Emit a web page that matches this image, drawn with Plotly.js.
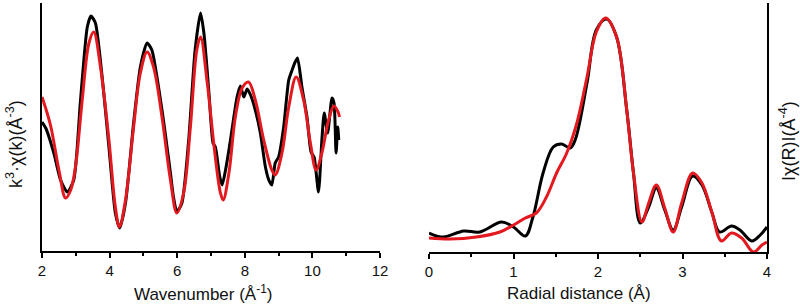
<!DOCTYPE html>
<html>
<head>
<meta charset="utf-8">
<script src="https://cdn.plot.ly/plotly-3.0.1.min.js"></script>
<style>html,body{margin:0;padding:0;background:#fff;}#chart{width:800px;height:307px;}</style>
</head>
<body>
<div id="chart"></div>
<script>
// k-space (left panel): experimental (black) and fit (red)
var kExp = [2.00,2.11,2.35,2.55,2.75,2.94,3.14,3.34,3.45,3.58,3.78,3.98,4.17,4.30,4.47,4.71,4.91,5.11,5.25,5.55,5.80,5.89,5.99,6.14,6.34,6.53,6.69,6.79,6.94,7.06,7.13,7.26,7.33,7.43,7.53,7.65,7.77,7.87,7.97,8.07,8.17,8.31,8.46,8.61,8.71,8.80,8.90,9.00,9.15,9.30,9.40,9.49,9.56,9.69,9.84,9.96,10.05,10.18,10.28,10.35,10.45,10.58,10.64,10.70,10.75,10.78];
var chiExp = [0.3,-0.3,-2.8,-5.5,-6.7,-5.5,2.5,9.8,10.9,10.2,4.8,-2.2,-8.8,-10.3,-7.8,0.2,5.8,8.2,7.5,1.5,-4.8,-7.2,-8.7,-7.8,-1.5,7.5,11.2,9.2,3.2,-1.8,-2.2,-5.2,-6.0,-4.5,-2.5,0.2,2.8,3.9,2.8,3.6,3.0,1.5,-0.8,-4.2,-5.5,-6.0,-3.8,-3.2,-0.2,4.5,5.5,6.3,6.7,3.8,0.8,-2.7,-3.2,-6.7,-1.5,1.2,-0.8,2.7,2.2,-2.8,-0.2,-1.5];
var kFit = [2.00,2.25,2.50,2.70,2.85,2.99,3.19,3.39,3.53,3.73,3.98,4.17,4.29,4.47,4.71,4.91,5.11,5.30,5.55,5.80,5.99,6.19,6.39,6.58,6.69,6.89,7.08,7.28,7.36,7.53,7.72,7.92,8.11,8.31,8.56,8.80,8.90,9.10,9.30,9.52,9.74,9.94,10.11,10.28,10.48,10.64,10.77,10.80];
var chiFit = [2.8,0.0,-4.5,-7.3,-6.5,-4.2,2.5,8.2,9.3,5.8,-1.5,-8.2,-10.2,-7.5,-0.2,5.2,7.3,5.8,0.8,-5.5,-8.8,-6.8,-0.2,7.5,8.8,4.2,-1.8,-6.8,-7.5,-4.8,0.8,3.7,4.3,2.5,-1.5,-4.5,-5.0,-2.8,1.8,4.8,2.5,-1.8,-4.5,-2.8,0.5,1.9,1.2,0.8];

// R-space (right panel)
var rExp = [0.00,0.17,0.41,0.60,0.86,1.00,1.14,1.23,1.35,1.47,1.57,1.67,1.73,1.87,1.98,2.10,2.22,2.34,2.42,2.50,2.60,2.69,2.79,2.89,2.99,3.12,3.23,3.35,3.44,3.58,3.68,3.82,3.92,4.00];
var magExp = [0.76,0.60,0.84,0.80,1.20,1.00,0.64,1.40,3.16,4.20,4.32,4.16,4.48,6.76,8.88,9.32,8.60,5.68,3.16,1.16,1.80,2.56,1.68,0.88,1.80,3.04,2.68,1.56,0.80,1.04,0.88,0.44,0.68,1.00];
var rFit = [0.00,0.25,0.56,0.84,1.00,1.14,1.27,1.39,1.51,1.63,1.75,1.87,1.98,2.09,2.22,2.34,2.42,2.52,2.60,2.69,2.79,2.89,2.99,3.12,3.23,3.35,3.46,3.58,3.70,3.84,3.94,4.00];
var magFit = [0.56,0.52,0.60,0.80,1.08,1.36,1.56,2.20,3.16,3.96,5.16,7.00,8.80,9.36,8.60,5.68,3.16,1.20,1.96,2.68,1.76,0.80,1.96,3.16,2.76,1.56,0.44,0.76,0.56,0.00,0.28,0.40];

var kTicks = [2,4,6,8,10,12];
var rTicks = [0,1,2,3,4];

var BLACK = '#000000', RED = '#e3191f';
var W = 800, H = 307;
function px(x){return x/W;}
function py(y){return 1 - y/H;}

var traces = [
  {x:kExp, y:chiExp, xaxis:'x', yaxis:'y', mode:'lines', line:{color:BLACK,width:3,shape:'spline',smoothing:0.6}, hoverinfo:'skip'},
  {x:kFit, y:chiFit, xaxis:'x', yaxis:'y', mode:'lines', line:{color:RED,width:3,shape:'spline',smoothing:1}, hoverinfo:'skip'},
  {x:rExp, y:magExp, xaxis:'x2', yaxis:'y2', mode:'lines', line:{color:BLACK,width:3,shape:'spline',smoothing:1}, hoverinfo:'skip'},
  {x:rFit, y:magFit, xaxis:'x2', yaxis:'y2', mode:'lines', line:{color:RED,width:3,shape:'spline',smoothing:1}, hoverinfo:'skip'}
];

var FONT = '"Liberation Sans", Arial, sans-serif';
var TXT = '#111111';
function xax(dom, range, ticks, minorD, anchor){
  return {domain:dom, range:range, anchor:anchor, tickvals:ticks, ticktext:ticks.map(String),
    ticks:'outside', ticklen:5, tickwidth:2, tickcolor:BLACK,
    minor:{dtick:minorD, tick0:0, ticks:'outside', ticklen:3, tickwidth:2, tickcolor:BLACK, showgrid:false},
    showline:true, linewidth:2, linecolor:BLACK, showgrid:false, zeroline:false,
    tickfont:{family:FONT, size:15, color:TXT}, fixedrange:true};
}
var layout = {
  width:W, height:H, autosize:false,
  margin:{l:0,r:0,t:0,b:0,pad:0},
  paper_bgcolor:'#ffffff', plot_bgcolor:'#ffffff',
  showlegend:false,
  xaxis: xax([px(42), px(380)], [2,12], kTicks, 1, 'y'),
  yaxis: {domain:[py(251), py(3)], range:[-12.6,12.2], anchor:'x', showticklabels:false, ticks:'',
    showline:true, linewidth:2, linecolor:BLACK, showgrid:false, zeroline:false, fixedrange:true},
  xaxis2: xax([px(429), px(767)], [0,4], rTicks, 0.5, 'y2'),
  yaxis2: {domain:[py(252), py(3)], range:[0,9.96], anchor:'x2', side:'right', showticklabels:false, ticks:'',
    showline:true, linewidth:2, linecolor:BLACK, showgrid:false, zeroline:false, fixedrange:true},
  annotations:[
    {xref:'paper', yref:'paper', x:px(203), y:py(293), text:'Wavenumber (Å<sup>-1</sup>)', showarrow:false,
      font:{family:FONT, size:17, color:TXT}, xanchor:'center', yanchor:'middle'},
    {xref:'paper', yref:'paper', x:px(579), y:py(293), text:'Radial distance (Å)', showarrow:false,
      font:{family:FONT, size:17, color:TXT}, xanchor:'center', yanchor:'middle'},
    {xref:'paper', yref:'paper', x:px(14), y:py(144), text:'k<sup>3</sup>·χ(k)(Å<sup>-3</sup>)', showarrow:false, textangle:-90,
      font:{family:FONT, size:18, color:TXT}, xanchor:'center', yanchor:'middle'},
    {xref:'paper', yref:'paper', x:px(787), y:py(141), text:'Iχ(R)I(Å<sup>-4</sup>)', showarrow:false, textangle:-90,
      font:{family:FONT, size:18, color:TXT}, xanchor:'center', yanchor:'middle'}
  ]
};
Plotly.newPlot('chart', traces, layout, {staticPlot:true, displayModeBar:false});
</script>
</body>
</html>
